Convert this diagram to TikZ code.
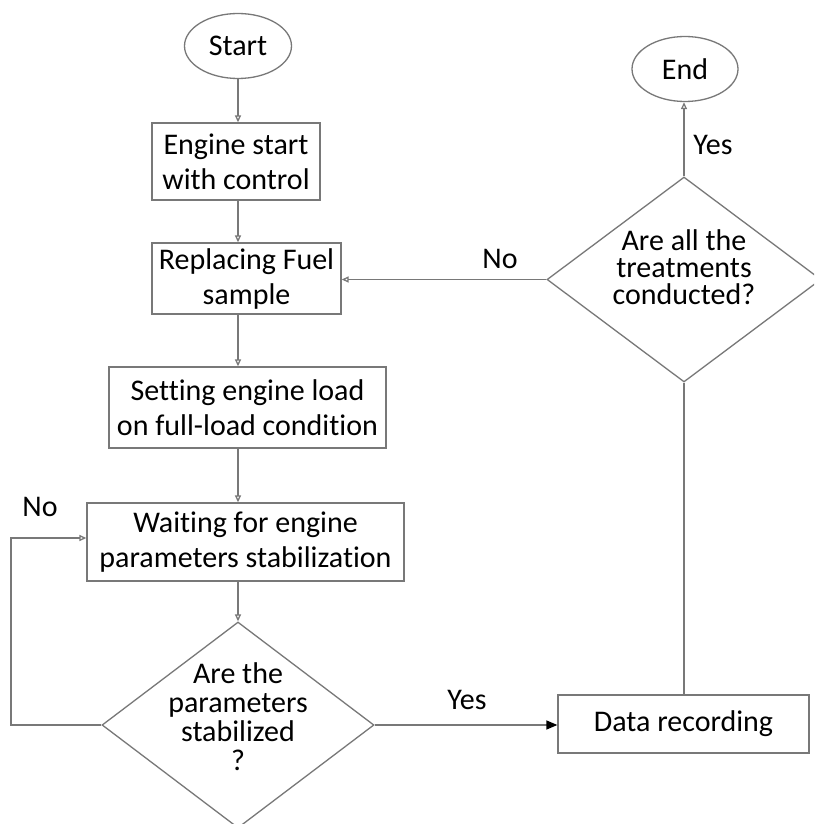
\documentclass[tikz,border=0pt]{standalone}
\usepackage{fontspec}
\setmainfont{Carlito}[Ligatures={NoCommon}]
\usetikzlibrary{shapes.geometric, arrows.meta}
\definecolor{lc}{RGB}{120,120,120}
\begin{document}
\begin{tikzpicture}[x=1pt,y=-1pt,
  every node/.style={font=\fontsize{30}{35}\selectfont, text=black},
  box/.style={draw=lc, line width=1.3pt, rectangle, align=center, inner sep=0pt},
  term/.style={draw=lc, line width=1.3pt, ellipse, inner sep=0pt},
  dia/.style={draw=lc, line width=1.3pt, diamond, inner sep=0pt},
  ln/.style={draw=lc, line width=1.3pt},
  arr/.style={draw=lc, line width=1.3pt, -{Triangle[open, length=7pt, width=6pt]}},
  farr/.style={draw=lc, line width=1.3pt, -{Triangle[length=11pt, width=9pt, color=black, fill=black]}},
  lbl/.style={inner sep=0pt}]
\useasboundingbox (0,0) rectangle (814,824);
\clip (0,0) rectangle (814,824);
\fill[white] (0,0) rectangle (814,824);

\node[term, minimum width=107pt, minimum height=65pt] (start) at (238,46) {Start};
\node[box, minimum width=168pt, minimum height=77pt] (eng) at (236,161.5) {Engine start\\with control};
\node[box, minimum width=189pt, minimum height=71pt] (rep) at (246.5,278.5) {Replacing Fuel\\sample};
\node[box, minimum width=277pt, minimum height=81pt] (set) at (247.5,407.5) {Setting engine load\\on full-load condition};
\node[box, minimum width=317pt, minimum height=78pt] (wait) at (245.5,542) {Waiting for engine\\parameters stabilization};
\node[dia, minimum width=272pt, minimum height=206pt] (q1) at (238,725) {};
\node[align=center, inner sep=0pt, font=\fontsize{30}{29}\selectfont] (q1t) at (238,717) {Are the\\parameters\\stabilized\\?};
\node[box, minimum width=251pt, minimum height=58pt] (rec) at (683.5,724) {Data recording};
\node[dia, minimum width=274pt, minimum height=205pt] (q2) at (684,279.5) {};
\node[align=center, inner sep=0pt, font=\fontsize{30}{27}\selectfont] (q2t) at (684,267) {Are all the\\treatments\\conducted?};
\node[term, minimum width=106pt, minimum height=65pt] (end) at (685,69) {End};

\node[lbl] (yes2) at (713,145) {Yes};
\node[lbl] (no2) at (500,259) {No};
\node[lbl] (yes1) at (467,700) {Yes};
\node[lbl] (no1) at (40,507) {No};

\draw[arr] (start.south) -- (start.south |- eng.north);
\draw[arr] (eng.south -| start.south) -- (rep.north -| start.south);
\draw[arr] (rep.south -| start.south) -- (set.north -| start.south);
\draw[arr] (set.south -| start.south) -- (wait.north -| start.south);
\draw[arr] (wait.south -| start.south) -- (q1.north);
\draw[farr] (q1.east) -- (rec.west |- q1.east);
\draw[arr] (q1.west) -- (11,725) |- ([yshift=4pt]wait.west);
\draw[ln] (rec.north -| q2.south) -- (q2.south);
\draw[arr] (q2.north) -- (q2.north |- end.south);
\draw[arr] (q2.west) -- (rep.east |- q2.west);
\end{tikzpicture}
\end{document}
